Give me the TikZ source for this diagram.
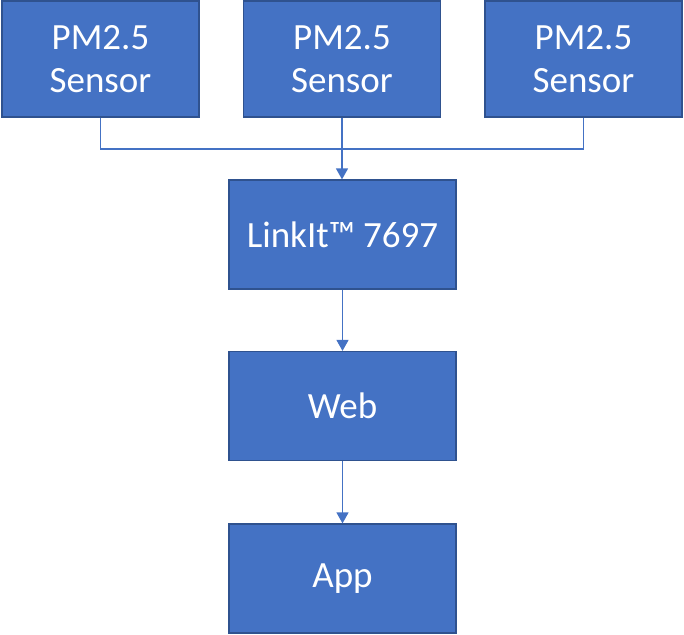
\documentclass[tikz,border=0pt]{standalone}
\usepackage{fontspec}
\setmainfont{Carlito}
\usepackage{xcolor}
\usetikzlibrary{arrows.meta, positioning, calc}

\definecolor{boxblue}{HTML}{4472C4}
\definecolor{boxedge}{HTML}{2F528F}

\begin{document}
\begin{tikzpicture}[x=1pt, y=1pt,
		box/.style={draw=boxedge, line width=1.2pt, fill=boxblue, text=white, align=center,
			inner sep=0pt, font=\fontsize{37}{43}\selectfont},
		sensorbox/.style={box, minimum width=197pt, minimum height=116pt},
		mainbox/.style={box, minimum width=227pt, minimum height=109pt},
		link/.style={draw=boxblue, line width=1.4pt},
		arr/.style={link, -{Triangle[width=12pt, length=11pt]}}]
			\useasboundingbox (0,0) rectangle (684,634);
			
			% sensors (x positions)
			\node[sensorbox] (S1) at (100.5,575) {PM2.5\\Sensor};
			\node[sensorbox] (S2) at (342,575) {PM2.5\\Sensor};
			\node[sensorbox] (S3) at (583.5,575) {PM2.5\\Sensor};
			
			% main chain
			\node[mainbox] (L) at (342.5,399.5) {LinkIt™ 7697};
			\node[mainbox] (W) at (342.5,228) {Web};
			\node[mainbox] (A) at (342.5,55.5) {App};
			
			% bus line
			\coordinate (J) at (342,485);
			\draw[link] (S1.south) |- (J) -| (S3.south);
			
			% arrows down
			\draw[arr] (S2.south) -- (S2.south |- L.north);
			\draw[arr] (L) -- (W);
			\draw[arr] (W) -- (A);
		\end{tikzpicture}
\end{document}
